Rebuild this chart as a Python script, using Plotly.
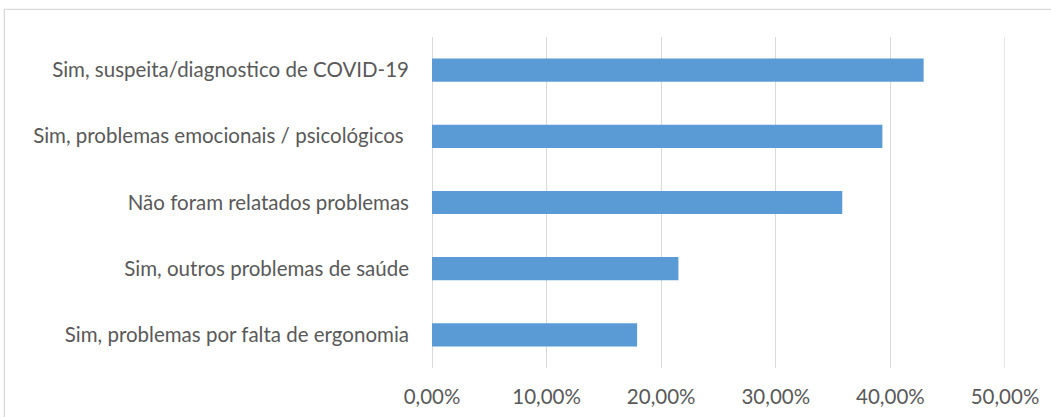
import plotly.graph_objects as go

# Survey answers (top to bottom) and their shares
categories = [
    "Sim, suspeita/diagnostico de COVID-19",
    "Sim, problemas emocionais / psicológicos ",
    "Não foram relatados problemas",
    "Sim, outros problemas de saúde",
    "Sim, problemas por falta de ergonomia",
]
shares = [0.429, 0.393, 0.358, 0.215, 0.179]
x_ticks = [0.0, 0.1, 0.2, 0.3, 0.4, 0.5]

W, H = 1051, 417
L, R, T, B = 432, 45.5, 36.7, 48.7
plot_w = W - L - R
plot_h = H - T - B

fig = go.Figure(
    go.Bar(
        x=shares,
        y=categories,
        orientation="h",
        width=0.35,
        marker=dict(color="#5b9bd5", line=dict(width=0)),
        hoverinfo="x+y",
    )
)

text_font = dict(family="Lato, Carlito, Calibri, sans-serif", size=20.5, color="#595959")
grid_color = "#d9d9d9"

fig.update_layout(
    width=W,
    height=H,
    margin=dict(l=L, r=R, t=T, b=B, pad=0),
    paper_bgcolor="white",
    plot_bgcolor="white",
    separators=",.",
    showlegend=False,
    xaxis=dict(
        range=[0, 0.5],
        tickvals=x_ticks,
        tickformat=".2%",
        showgrid=True,
        gridcolor=grid_color,
        gridwidth=1.3,
        zeroline=True,
        zerolinecolor=grid_color,
        zerolinewidth=1.3,
        showline=False,
        ticks="",
        ticklabelstandoff=14,
        tickfont=text_font,
        automargin=False,
        fixedrange=True,
    ),
    yaxis=dict(
        categoryorder="array",
        categoryarray=categories,
        autorange=False,
        range=[len(categories) - 0.5, -0.5],
        showgrid=False,
        zeroline=False,
        showline=False,
        ticks="",
        ticklabelstandoff=22,
        tickfont=text_font,
        automargin=False,
        fixedrange=True,
    ),
    shapes=[
        # gridline at the last tick (right edge of the value axis)
        dict(
            type="line",
            xref="x",
            yref="paper",
            x0=x_ticks[-1],
            x1=x_ticks[-1],
            y0=0,
            y1=1,
            line=dict(color=grid_color, width=1.3),
            layer="below",
        ),
        # light frame around the chart area
        dict(
            type="rect",
            xref="paper",
            yref="paper",
            x0=(4 - L) / plot_w,
            x1=(W + 20 - L) / plot_w,
            y0=(H - B - (H + 20)) / plot_h,
            y1=(H - B - 9) / plot_h,
            line=dict(color=grid_color, width=1.3),
            fillcolor="rgba(0,0,0,0)",
            layer="below",
        ),
    ],
)

fig.write_html("out.html")
